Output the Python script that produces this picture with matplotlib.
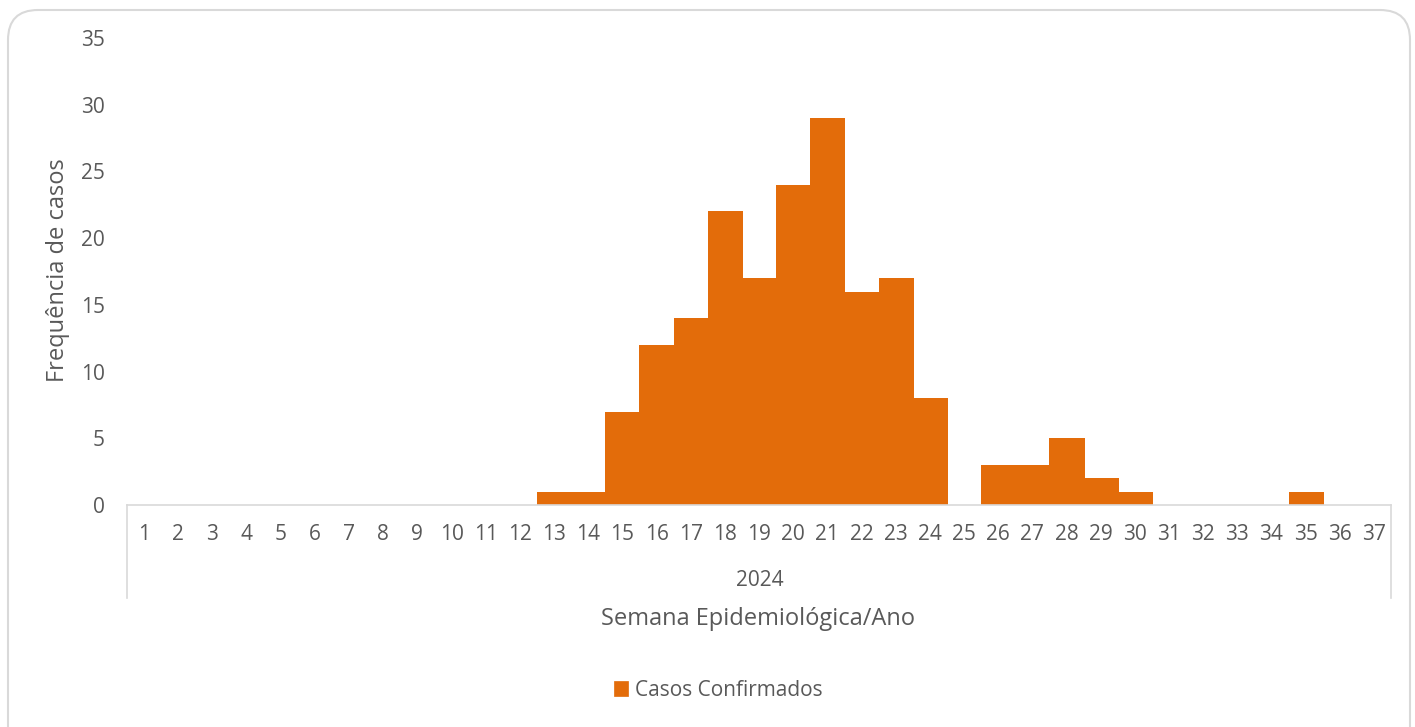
import matplotlib.pyplot as plt
from matplotlib.patches import FancyBboxPatch

# Casos confirmados por semana epidemiológica (2024)
weeks = list(range(1, 38))
cases = [0, 0, 0, 0, 0, 0, 0, 0, 0, 0, 0, 0, 1, 1, 7, 12, 14, 22, 17, 24,
         29, 16, 17, 8, 0, 3, 3, 5, 2, 1, 0, 0, 0, 0, 1, 0, 0]
year_label = '2024'
y_ticks = [0, 5, 10, 15, 20, 25, 30, 35]

plt.rcParams['font.family'] = ['Open Sans', 'DejaVu Sans']
grey = '#595959'
orange = '#E36C0A'

W, H = 1415, 727
fig = plt.figure(figsize=(W / 100, H / 100), dpi=100)
ax = fig.add_axes([127 / W, 1 - 505 / H, (1391 - 127) / W, (505 - 38) / H])

# rounded frame around the whole chart
frame = FancyBboxPatch((0.08, -0.3), 14.02, 7.47, boxstyle='round,pad=0,rounding_size=0.3',
                       transform=fig.dpi_scale_trans, facecolor='none',
                       edgecolor='#D9D9D9', linewidth=1.5)
fig.patches.append(frame)

xs = [w for w, c in zip(weeks, cases) if c > 0]
hs = [c for c in cases if c > 0]
ax.bar(xs, hs, width=1, color=orange, edgecolor=orange, linewidth=0.5,
       antialiased=False, label='Casos Confirmados')

ax.set_xlim(0.5, 37.5)
ax.set_ylim(0, 35)
ax.set_yticks(y_ticks)
ax.set_xticks(weeks)
ax.set_xticklabels([str(w) for w in weeks])
ax.tick_params(axis='both', length=0, labelsize=15, colors=grey)
ax.tick_params(axis='y', pad=16)
ax.tick_params(axis='x', pad=14)

for s in ['top', 'right', 'left']:
    ax.spines[s].set_visible(False)
ax.spines['bottom'].set_color('#D9D9D9')
ax.spines['bottom'].set_linewidth(1.2)

# multi-level category axis boxes
drop = -(598 - 505) / (505 - 38)
for xa in [0, 1]:
    ax.plot([xa, xa], [0, drop], transform=ax.transAxes, clip_on=False,
            color='#D9D9D9', linewidth=1.2)

fig.text(760 / W, 1 - 581 / H, year_label, ha='center', va='center',
         fontsize=15, color=grey)
fig.text(758 / W, 1 - 619 / H, 'Semana Epidemiológica/Ano', ha='center', va='center',
         fontsize=17, color=grey)
fig.text(58 / W, 1 - 270 / H, 'Frequência de casos', ha='center', va='center',
         rotation=90, fontsize=17, color=grey)

fig.legend(loc='center', bbox_to_anchor=(718 / W, 1 - 690 / H), frameon=False,
           handlelength=0.7, handleheight=0.7, handletextpad=0.3,
           prop={'size': 15}, labelcolor=grey)

fig.savefig('out.png', dpi=100)
